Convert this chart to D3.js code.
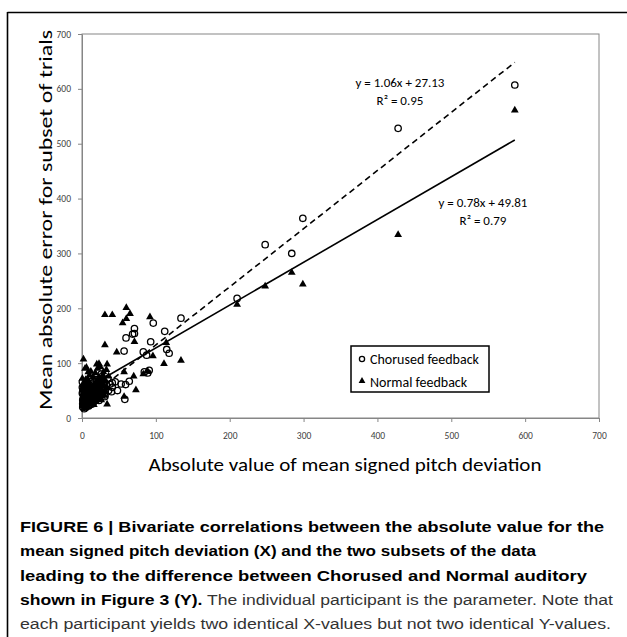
<!DOCTYPE html>
<html>
<head>
<meta charset="utf-8">
<script src="https://cdn.jsdelivr.net/npm/d3@7"></script>
<style>
  html, body { margin: 0; padding: 0; background: #fff; }
  svg { display: block; }
</style>
</head>
<body>
<svg id="chart" width="627" height="637"></svg>
<script>
// ---------- data ----------
const xTicks = [0, 100, 200, 300, 400, 500, 600, 700];
const yTicks = [0, 100, 200, 300, 400, 500, 600, 700];

const seriesNames = ["Chorused feedback", "Normal feedback"];

// Chorused feedback (open circles)
const chorusedX = [586, 428, 299, 248, 284, 210, 134, 112, 114.7, 118, 96.5, 93, 71, 71, 68.5, 59.6, 57, 83, 87.5, 84.4, 91, 89,
  53, 59, 64, 48, 58, 41, 41, 45, 31, 0.5, 0.5,
  1, 2, 3, 1, 2, 4, 5, 3, 6, 7, 5, 8, 9, 10, 11, 12, 2, 4, 6, 8, 10, 13, 14, 15, 16, 18, 17, 20, 21, 22, 24, 25, 27, 28, 30, 33, 35, 26, 19, 12, 7, 3, 5, 9, 13, 0.5, 16, 23, 31, 36, 38, 40,
  1, 2, 3, 4, 5, 6, 7, 8, 9, 10, 11, 12, 14, 15, 17, 19, 20, 22, 24, 26, 28, 30, 1, 3, 5, 7, 9, 11, 13, 16];
const chorusedY = [607, 528, 364, 316, 300, 218, 182, 158, 125, 118, 173, 139, 163, 154, 153, 146, 122, 120.5, 114.5, 84, 87, 82,
  62, 61, 67, 50, 34, 56, 64, 66, 39, 66, 56,
  20, 24, 28, 33, 38, 22, 30, 42, 26, 35, 46, 30, 40, 24, 32, 45, 52, 58, 50, 55, 60, 38, 50, 28, 42, 35, 56, 48, 62, 40, 55, 70, 45, 62, 52, 60, 72, 80, 70, 66, 64, 17, 19, 22, 25, 45, 30, 32, 42, 50, 62, 48,
  26, 30, 35, 40, 25, 33, 28, 45, 35, 50, 40, 30, 35, 45, 38, 50, 42, 58, 48, 55, 50, 65, 48, 55, 62, 50, 58, 55, 62, 65];

// Normal feedback (filled triangles)
const normalX = [586, 428, 299, 284, 248, 210, 134, 114, 111, 96, 92, 71, 60, 65, 60, 55, 31, 41, 31, 47, 83, 89, 57, 70, 29, 36, 73, 34, 57, 2, 4, 8.5, 20, 23, 34, 6, 24,
  1, 2, 3, 4, 5, 6, 7, 8, 9, 10, 11, 12, 13, 14, 15, 16, 17, 18, 19, 20, 21, 22, 23, 24, 25, 26, 27, 28, 29, 30, 32, 33, 34, 2, 4, 6, 8, 10, 12, 3, 5, 7, 1, 15, 18, 21, 24, 14, 0.5, 26,
  1, 2, 3, 4, 5, 6, 7, 8, 9, 10, 11, 12, 13, 14, 15, 16, 17, 18, 19, 20, 22, 23, 25, 27, 29, 31, 1, 3, 5, 9];
const normalY = [561, 334, 244, 265, 240, 207, 105, 137, 99, 113, 184, 139, 201, 190, 181, 173, 188, 188, 133, 120, 80, 85, 84, 76, 84, 76, 51, 25, 39, 107, 90, 84, 98, 99, 98, 92, 93,
  22, 30, 18, 26, 35, 20, 28, 40, 25, 33, 50, 28, 42, 36, 55, 24, 46, 62, 30, 52, 40, 70, 58, 45, 35, 65, 50, 78, 60, 42, 68, 88, 55, 45, 55, 62, 70, 78, 85, 38, 48, 21, 60, 75, 82, 90, 95, 26, 72, 33,
  28, 35, 42, 32, 22, 40, 45, 30, 52, 38, 25, 48, 32, 58, 40, 52, 30, 44, 66, 36, 48, 75, 55, 40, 70, 50, 50, 65, 70, 62];

// linear fits [slope, intercept]
const chorusedFit = [1.06, 27.13];
const normalFit = [0.78, 49.81];
const chorusedEq = ["y = 1.06x + 27.13", "R² = 0.95"];
const normalEq = ["y = 0.78x + 49.81", "R² = 0.79"];

const xTitle = "Absolute value of mean signed pitch deviation";
const yTitle = "Mean absolute error for subset of trials";

const captionLines = [
  [{t: "FIGURE 6 | Bivariate correlations between the absolute value for the", b: true}],
  [{t: "mean signed pitch deviation (X) and the two subsets of the data", b: true}],
  [{t: "leading to the difference between Chorused and Normal auditory", b: true}],
  [{t: "shown in Figure 3 (Y).", b: true}, {t: " The individual participant is the parameter. Note that", b: false}],
  [{t: "each participant yields two identical X-values but not two identical Y-values.", b: false}]
];

// ---------- layout ----------
const svg = d3.select("#chart");
const chartFont = "Carlito, Lato, 'Open Sans', sans-serif";
const capFont = "'Liberation Sans', Arial, sans-serif";
const plot = {left: 82, right: 599, top: 34, bottom: 418};

const x = d3.scaleLinear().domain([0, 700]).range([plot.left, plot.right]);
const y = d3.scaleLinear().domain([0, 700]).range([plot.bottom, plot.top]);

// figure frame (top + left)
svg.append("line").attr("x1", 7.5).attr("x2", 627).attr("y1", 12.5).attr("y2", 12.5)
  .attr("stroke", "#000").attr("stroke-width", 1.6);
svg.append("line").attr("x1", 7.5).attr("x2", 7.5).attr("y1", 12).attr("y2", 637)
  .attr("stroke", "#000").attr("stroke-width", 1.6);

// plot area border
svg.append("rect").attr("x", plot.left).attr("y", plot.top)
  .attr("width", plot.right - plot.left).attr("height", plot.bottom - plot.top)
  .attr("fill", "none").attr("stroke", "#868686").attr("stroke-width", 1);

// axes
const gx = svg.append("g").attr("transform", `translate(0,${plot.bottom})`)
  .call(d3.axisBottom(x).tickValues(xTicks).tickSize(4).tickSizeOuter(0).tickPadding(10));
const gy = svg.append("g").attr("transform", `translate(${plot.left},0)`)
  .call(d3.axisLeft(y).tickValues(yTicks).tickSize(4).tickSizeOuter(0).tickPadding(7));
[gx, gy].forEach(g => {
  g.select(".domain").attr("stroke", "#868686");
  g.selectAll(".tick line").attr("stroke", "#868686");
  g.selectAll(".tick text").attr("fill", "#404040").style("font-family", chartFont).style("font-size", "9.5px");
});

// axis titles
svg.append("text").attr("x", 345).attr("y", 471).attr("text-anchor", "middle")
  .style("font-family", chartFont).style("font-size", "18px").attr("fill", "#000")
  .attr("textLength", 393).attr("lengthAdjust", "spacingAndGlyphs")
  .text(xTitle);
svg.append("text").attr("transform", "translate(52,220) rotate(-90)").attr("text-anchor", "middle")
  .style("font-family", chartFont).style("font-size", "19px").attr("fill", "#000")
  .attr("textLength", 380).attr("lengthAdjust", "spacingAndGlyphs")
  .text(yTitle);

// data points
const chorused = chorusedX.map((v, i) => [v, chorusedY[i]]);
const normal = normalX.map((v, i) => [v, normalY[i]]);

svg.append("g").selectAll("circle").data(chorused).join("circle")
  .attr("cx", d => x(d[0])).attr("cy", d => y(d[1])).attr("r", 3.2)
  .attr("fill", "none").attr("stroke", "#000").attr("stroke-width", 1.3);

const tri = d3.symbol().type(d3.symbolTriangle).size(26);
svg.append("g").selectAll("path").data(normal).join("path")
  .attr("d", tri).attr("transform", d => `translate(${x(d[0])},${y(d[1])})`)
  .attr("fill", "#000");

// trend lines
function fitLine(xs, fit) {
  const ext = d3.extent(xs);
  return ext.map(v => [v, fit[0] * v + fit[1]]);
}
const lineGen = d3.line().x(d => x(d[0])).y(d => y(d[1]));
svg.append("path").attr("d", lineGen(fitLine(chorusedX, chorusedFit)))
  .attr("fill", "none").attr("stroke", "#000").attr("stroke-width", 1.6).attr("stroke-dasharray", "6,4");
svg.append("path").attr("d", lineGen(fitLine(normalX, normalFit)))
  .attr("fill", "none").attr("stroke", "#000").attr("stroke-width", 1.6);

// equations
function eq(lines, cx, y0) {
  lines.forEach((s, i) => {
    svg.append("text").attr("x", cx).attr("y", y0 + i * 18).attr("text-anchor", "middle")
      .style("font-family", chartFont).style("font-size", "13px").attr("fill", "#000").text(s);
  });
}
eq(chorusedEq, 400, 87);
eq(normalEq, 483, 207);

// legend
const lg = svg.append("g");
lg.append("rect").attr("x", 351).attr("y", 346).attr("width", 138).attr("height", 46)
  .attr("fill", "#fff").attr("stroke", "#000").attr("stroke-width", 1.5);
lg.append("circle").attr("cx", 362).attr("cy", 359).attr("r", 2.6)
  .attr("fill", "#fff").attr("stroke", "#000").attr("stroke-width", 1.3);
lg.append("path").attr("d", d3.symbol().type(d3.symbolTriangle).size(20))
  .attr("transform", "translate(362,381)").attr("fill", "#000");
seriesNames.forEach((n, i) => {
  lg.append("text").attr("x", 370).attr("y", 364 + i * 23)
    .style("font-family", chartFont).style("font-size", "14px").attr("fill", "#000").text(n);
});

// caption
const capWidths = [584, 516, 567, 593, 591];
captionLines.forEach((parts, i) => {
  const t = svg.append("text").attr("x", 20).attr("y", 532 + i * 24.3)
    .style("font-family", capFont).style("font-size", "15.5px")
    .attr("textLength", capWidths[i]).attr("lengthAdjust", "spacingAndGlyphs");
  parts.forEach(p => {
    t.append("tspan").attr("font-weight", p.b ? "bold" : "normal")
      .attr("fill", p.b ? "#000" : "#333").text(p.t);
  });
});
</script>
</body>
</html>
